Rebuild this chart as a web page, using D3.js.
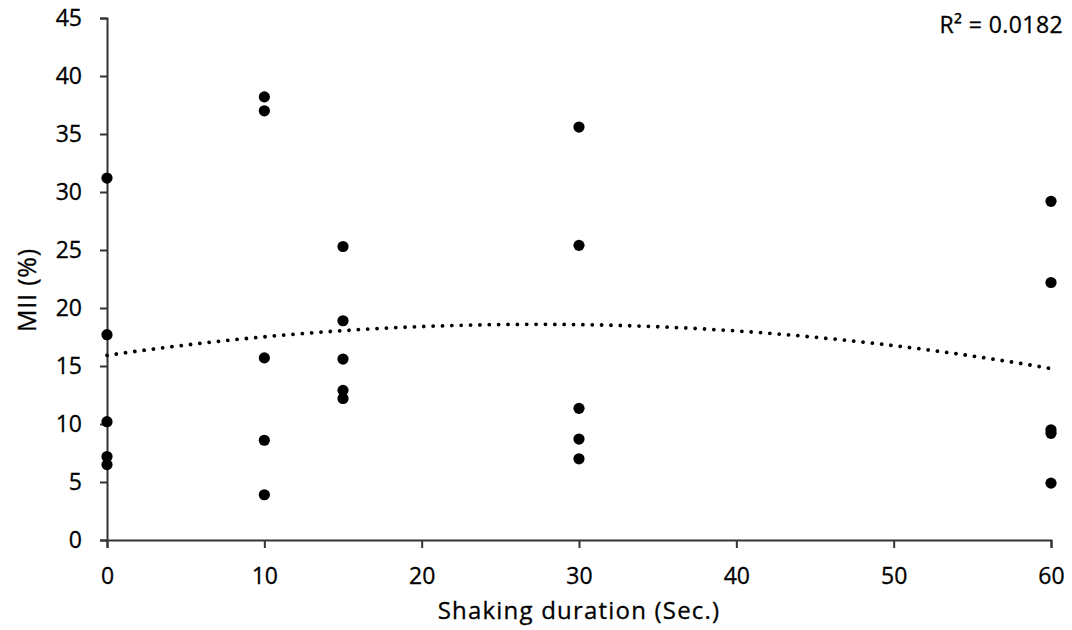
<!DOCTYPE html>
<html>
<head>
<meta charset="utf-8">
<script src="https://cdn.jsdelivr.net/npm/d3@7/dist/d3.min.js"></script>
<style>
  html, body { margin: 0; padding: 0; background: #fff; }
  svg { display: block; }
  text { font-family: "Open Sans", "DejaVu Sans", sans-serif; fill: #000; stroke: #000; stroke-width: 0.3px; }
</style>
</head>
<body>
<svg id="chart" width="1072" height="630"></svg>
<script>
// ---- Data ----
const xTicks = [0, 10, 20, 30, 40, 50, 60];
const yTicks = [0, 5, 10, 15, 20, 25, 30, 35, 40, 45];
const shakingDuration = [0, 0, 0, 0, 0,
                         10, 10, 10, 10, 10,
                         15, 15, 15, 15, 15,
                         30, 30, 30, 30, 30,
                         60, 60, 60, 60, 60];
const miiValues = [31.2, 17.7, 10.2, 7.2, 6.5,
                   38.2, 37.0, 15.7, 8.6, 3.9,
                   25.3, 18.9, 15.6, 12.9, 12.2,
                   35.6, 25.4, 11.35, 8.7, 7.0,
                   29.2, 22.2, 9.5, 9.2, 4.9];
const xTitle = "Shaking duration (Sec.)";
const yTitle = "MII (%)";
const r2Label = "R\u00B2 = 0.0182";

// ---- Layout ----
const svg = d3.select("#chart");
const plotLeft = 107, plotRight = 1051, plotTop = 18, plotBottom = 540;

const x = d3.scaleLinear().domain([0, 60]).range([plotLeft, plotRight]);
const y = d3.scaleLinear().domain([0, 45]).range([plotBottom, plotTop]);

const axisColor = "#333";

// Y axis
const yAxis = svg.append("g")
  .attr("transform", `translate(${plotLeft},0)`)
  .call(d3.axisLeft(y).tickValues(yTicks).tickSize(7).tickPadding(18).tickFormat(d3.format("d")));
yAxis.select(".domain").attr("stroke", axisColor).attr("stroke-width", 2);
yAxis.selectAll(".tick line").attr("stroke", axisColor).attr("stroke-width", 2);
yAxis.selectAll(".tick text").style("font-size", "23px").attr("fill", "#000");

// X axis
const xAxis = svg.append("g")
  .attr("transform", `translate(0,${plotBottom})`)
  .call(d3.axisBottom(x).tickValues(xTicks).tickSize(8).tickPadding(20).tickFormat(d3.format("d")));
xAxis.select(".domain").attr("stroke", axisColor).attr("stroke-width", 2);
xAxis.selectAll(".tick line").attr("stroke", axisColor).attr("stroke-width", 2);
xAxis.selectAll(".tick text").style("font-size", "23px").attr("fill", "#000");

// Axis titles
svg.append("text")
  .attr("x", (plotLeft + plotRight) / 2).attr("y", 619)
  .attr("text-anchor", "middle")
  .style("font-size", "24px")
  .style("letter-spacing", "1.2px")
  .text(xTitle);

svg.append("text")
  .attr("transform", `translate(36,290) rotate(-90)`)
  .attr("text-anchor", "middle")
  .style("font-size", "25px")
  .style("letter-spacing", "0.8px")
  .text(yTitle);

// ---- Polynomial (order 2) least-squares trendline computed from the data ----
function quadFit(xs, ys) {
  let s = [0,0,0,0,0], t = [0,0,0];
  for (let i = 0; i < xs.length; i++) {
    const xi = xs[i], yi = ys[i];
    let p = 1;
    for (let k = 0; k < 5; k++) { s[k] += p; p *= xi; }
    t[0] += yi; t[1] += yi * xi; t[2] += yi * xi * xi;
  }
  const M = [[s[0], s[1], s[2], t[0]],
             [s[1], s[2], s[3], t[1]],
             [s[2], s[3], s[4], t[2]]];
  for (let i = 0; i < 3; i++) {
    for (let j = i + 1; j < 3; j++) {
      const f = M[j][i] / M[i][i];
      for (let k = i; k < 4; k++) M[j][k] -= f * M[i][k];
    }
  }
  const c = [0,0,0];
  for (let i = 2; i >= 0; i--) {
    let v = M[i][3];
    for (let k = i + 1; k < 3; k++) v -= M[i][k] * c[k];
    c[i] = v / M[i][i];
  }
  return c;
}
const coef = quadFit(shakingDuration, miiValues);
const trendX = d3.range(0, 60.01, 0.5);
const line = d3.line()
  .x(d => x(d))
  .y(d => y(coef[0] + coef[1] * d + coef[2] * d * d));

svg.append("path")
  .datum(trendX)
  .attr("d", line)
  .attr("fill", "none")
  .attr("stroke", "#000")
  .attr("stroke-width", 3.8)
  .attr("stroke-linecap", "round")
  .attr("stroke-dasharray", "0.01 9.35");

// ---- Points ----
svg.append("g")
  .selectAll("circle")
  .data(shakingDuration.map((d, i) => [d, miiValues[i]]))
  .join("circle")
  .attr("cx", d => x(d[0]))
  .attr("cy", d => y(d[1]))
  .attr("r", 5.6)
  .attr("fill", "#000");

// R² label
svg.append("text")
  .attr("x", 1063).attr("y", 33)
  .attr("text-anchor", "end")
  .style("font-size", "23px")
  .style("letter-spacing", "0.4px")
  .text(r2Label);
</script>
</body>
</html>
